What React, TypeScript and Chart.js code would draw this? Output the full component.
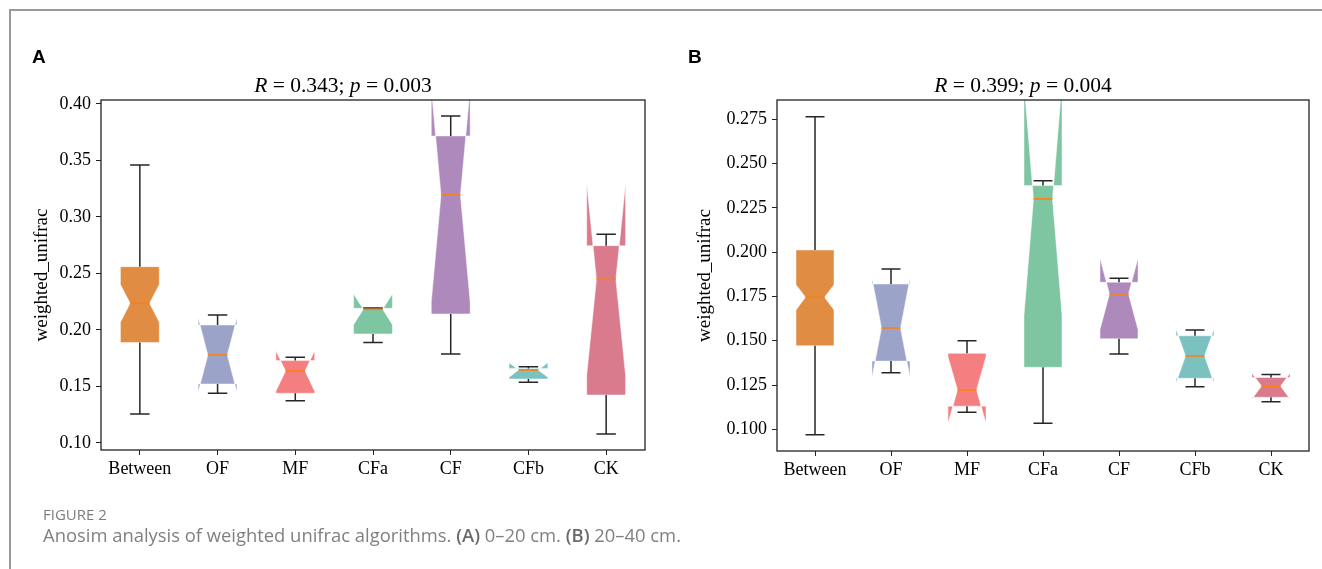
import React, { useEffect, useRef } from "react";
import { Chart, registerables } from "chart.js";

Chart.register(...registerables);

// ---------- data ----------
const categories = ["Between", "OF", "MF", "CFa", "CF", "CFb", "CK"];
const boxColors = ["#E08C43", "#9CA3C9", "#F47F80", "#7EC5A1", "#AE89BB", "#7BC1C0", "#DA7B8D"];

// Panel A (0-20 cm)
const aWhiskerLow = [0.1257, 0.144, 0.1374, 0.189, 0.1788, 0.1537, 0.108];
const aQ1 = [0.189, 0.1522, 0.144, 0.1965, 0.2142, 0.1566, 0.1425];
const aMedian = [0.2236, 0.1779, 0.1637, 0.2183, 0.3195, 0.1646, 0.2449];
const aQ3 = [0.256, 0.2044, 0.1729, 0.2192, 0.3717, 0.166, 0.2746];
const aWhiskerHigh = [0.346, 0.2133, 0.1758, 0.2195, 0.3894, 0.1675, 0.2847];
const aNotch = [0.0167, 0.033, 0.018, 0.0136, 0.0945, 0.0064, 0.0849];
const aYTicks = [0.1, 0.15, 0.2, 0.25, 0.3, 0.35, 0.4];
const aYTickLabels = ["0.10", "0.15", "0.20", "0.25", "0.30", "0.35", "0.40"];
const aYMin = 0.0938;
const aYMax = 0.4035;
const aTitle = ["R", " = 0.343; ", "p", " = 0.003"];

// Panel B (20-40 cm)
const bWhiskerLow = [0.097, 0.1319, 0.1096, 0.1034, 0.1425, 0.124, 0.1156];
const bQ1 = [0.1472, 0.1385, 0.1131, 0.135, 0.1511, 0.1288, 0.1181];
const bMedian = [0.1745, 0.1572, 0.1222, 0.23, 0.1764, 0.1414, 0.1244];
const bQ3 = [0.2012, 0.182, 0.1429, 0.2375, 0.183, 0.1528, 0.1293];
const bWhiskerHigh = [0.2764, 0.1905, 0.15, 0.2403, 0.1852, 0.156, 0.131];
const bNotch = [0.0071, 0.028, 0.0188, 0.0655, 0.0201, 0.0152, 0.0073];
const bYTicks = [0.1, 0.125, 0.15, 0.175, 0.2, 0.225, 0.25, 0.275];
const bYTickLabels = ["0.100", "0.125", "0.150", "0.175", "0.200", "0.225", "0.250", "0.275"];
const bYMin = 0.0878;
const bYMax = 0.2858;
const bTitle = ["R", " = 0.399; ", "p", " = 0.004"];

const yAxisLabel = "weighted_unifrac";

const SERIF = "'Liberation Serif', 'Times New Roman', serif";

// ---------- plugin ----------
const notchBoxPlugin = {
  id: "notchBox",
  afterDatasetsDraw(chart: any, _args: any, opts: any) {
    if (!opts || !opts.median) return;
    const { ctx, chartArea, scales } = chart;
    const x = scales.x;
    const y = scales.y;
    const unit = x.getPixelForValue(1) - x.getPixelForValue(0);
    const hw = unit * 0.25;
    const nw = unit * 0.125;
    const cw = unit * 0.125;
    const py = (v: number) => y.getPixelForValue(v);

    ctx.save();
    ctx.beginPath();
    ctx.rect(chartArea.left, chartArea.top, chartArea.right - chartArea.left, chartArea.bottom - chartArea.top);
    ctx.clip();
    for (let i = 0; i < opts.median.length; i++) {
      const cx = x.getPixelForValue(i);
      const q1 = opts.q1[i];
      const q3 = opts.q3[i];
      const med = opts.median[i];
      const n = opts.notch[i];
      ctx.beginPath();
      ctx.moveTo(cx - hw, py(q1));
      ctx.lineTo(cx - hw, py(med - n));
      ctx.lineTo(cx - nw, py(med));
      ctx.lineTo(cx - hw, py(med + n));
      ctx.lineTo(cx - hw, py(q3));
      ctx.lineTo(cx + hw, py(q3));
      ctx.lineTo(cx + hw, py(med + n));
      ctx.lineTo(cx + nw, py(med));
      ctx.lineTo(cx + hw, py(med - n));
      ctx.lineTo(cx + hw, py(q1));
      ctx.closePath();
      ctx.fillStyle = opts.colors[i];
      ctx.fill();
      ctx.strokeStyle = "rgba(255,255,255,0.6)";
      ctx.lineWidth = 0.8;
      ctx.stroke();

      // whiskers
      ctx.strokeStyle = "#262626";
      ctx.lineWidth = 1.5;
      ctx.beginPath();
      ctx.moveTo(cx, py(q1));
      ctx.lineTo(cx, py(opts.whiskerLow[i]));
      ctx.moveTo(cx, py(q3));
      ctx.lineTo(cx, py(opts.whiskerHigh[i]));
      ctx.moveTo(cx - cw, py(opts.whiskerLow[i]));
      ctx.lineTo(cx + cw, py(opts.whiskerLow[i]));
      ctx.moveTo(cx - cw, py(opts.whiskerHigh[i]));
      ctx.lineTo(cx + cw, py(opts.whiskerHigh[i]));
      ctx.stroke();

      // median
      ctx.strokeStyle = "#FF7F0E";
      ctx.lineWidth = 1.6;
      ctx.beginPath();
      ctx.moveTo(cx - nw, py(med));
      ctx.lineTo(cx + nw, py(med));
      ctx.stroke();
    }
    ctx.restore();

    // frame
    ctx.save();
    ctx.strokeStyle = "#222";
    ctx.lineWidth = 1.3;
    ctx.strokeRect(chartArea.left, chartArea.top, chartArea.right - chartArea.left, chartArea.bottom - chartArea.top);
    ctx.restore();

    // title with italic parts
    ctx.save();
    ctx.fillStyle = "#000";
    ctx.textBaseline = "alphabetic";
    ctx.textAlign = "left";
    const parts: string[] = opts.title;
    const fonts = parts.map((_, k) => (k % 2 === 0 ? `italic 21.5px ${SERIF}` : `21.5px ${SERIF}`));
    let total = 0;
    parts.forEach((p, k) => {
      ctx.font = fonts[k];
      total += ctx.measureText(p).width;
    });
    let tx = opts.titleX - total / 2;
    parts.forEach((p, k) => {
      ctx.font = fonts[k];
      ctx.fillText(p, tx, opts.titleY);
      tx += ctx.measureText(p).width;
    });
    ctx.restore();

    // y label
    ctx.save();
    ctx.fillStyle = "#000";
    ctx.font = `19px ${SERIF}`;
    ctx.textAlign = "center";
    ctx.textBaseline = "middle";
    ctx.translate(opts.yLabelX, (chartArea.top + chartArea.bottom) / 2);
    ctx.rotate(-Math.PI / 2);
    ctx.fillText(yAxisLabel, 0, 0);
    ctx.restore();
  },
};

type PanelProps = {
  left: number;
  width: number;
  height: number;
  padRight: number;
  yAxisWidth: number;
  xAxisHeight: number;
  yMin: number;
  yMax: number;
  yTicks: number[];
  yTickLabels: string[];
  whiskerLow: number[];
  q1: number[];
  median: number[];
  q3: number[];
  whiskerHigh: number[];
  notch: number[];
  title: string[];
  titleX: number;
  yLabelX: number;
};

function BoxPanel(p: PanelProps) {
  const ref = useRef<HTMLCanvasElement | null>(null);
  useEffect(() => {
    if (!ref.current) return;
    const tickFont = { family: SERIF, size: 18 };
    const chart = new Chart(ref.current, {
      type: "line",
      data: {
        labels: categories,
        datasets: [
          {
            data: p.median,
            showLine: false,
            pointRadius: 0,
            pointHoverRadius: 0,
          },
        ],
      },
      options: {
        responsive: false,
        animation: false,
        events: [],
        layout: { padding: { left: 0, top: 100, right: p.padRight, bottom: 0 } },
        plugins: {
          legend: { display: false },
          tooltip: { enabled: false },
          title: { display: false },
          notchBox: {
            whiskerLow: p.whiskerLow,
            q1: p.q1,
            median: p.median,
            q3: p.q3,
            whiskerHigh: p.whiskerHigh,
            notch: p.notch,
            colors: boxColors,
            title: p.title,
            titleX: p.titleX,
            titleY: 92,
            yLabelX: p.yLabelX,
          },
        } as any,
        scales: {
          x: {
            type: "category",
            offset: true,
            grid: { drawOnChartArea: false, drawTicks: true, tickLength: 5, color: "#222", offset: false },
            border: { display: false },
            ticks: { font: tickFont, color: "#000", padding: 3, maxRotation: 0, autoSkip: false },
            afterFit: (s: any) => {
              s.height = p.xAxisHeight;
            },
          } as any,
          y: {
            type: "linear",
            min: p.yMin,
            max: p.yMax,
            grid: { drawOnChartArea: false, drawTicks: true, tickLength: 5, color: "#222" },
            border: { display: false },
            ticks: {
              font: tickFont,
              color: "#000",
              padding: 5,
              includeBounds: false,
              callback: (_v: any, i: number) => p.yTickLabels[i],
            },
            afterBuildTicks: (s: any) => {
              s.ticks = p.yTicks.map((v) => ({ value: v }));
            },
            afterFit: (s: any) => {
              s.width = p.yAxisWidth;
            },
          } as any,
        },
      },
      plugins: [notchBoxPlugin as any],
    });
    return () => chart.destroy();
  }, []);
  return (
    <canvas
      ref={ref}
      width={p.width}
      height={p.height}
      style={{ position: "absolute", left: p.left, top: 0, width: p.width, height: p.height }}
    />
  );
}

export default function App() {
  return (
    <div
      style={{
        position: "fixed",
        left: 0,
        top: 0,
        width: 1322,
        height: 569,
        background: "#fff",
        overflow: "hidden",
      }}
    >
      <BoxPanel
        left={0}
        width={661}
        height={569}
        padRight={16}
        yAxisWidth={101}
        xAxisHeight={119}
        yMin={aYMin}
        yMax={aYMax}
        yTicks={aYTicks}
        yTickLabels={aYTickLabels}
        whiskerLow={aWhiskerLow}
        q1={aQ1}
        median={aMedian}
        q3={aQ3}
        whiskerHigh={aWhiskerHigh}
        notch={aNotch}
        title={aTitle}
        titleX={343}
        yLabelX={42}
      />
      <BoxPanel
        left={661}
        width={661}
        height={569}
        padRight={13}
        yAxisWidth={116}
        xAxisHeight={118}
        yMin={bYMin}
        yMax={bYMax}
        yTicks={bYTicks}
        yTickLabels={bYTickLabels}
        whiskerLow={bWhiskerLow}
        q1={bQ1}
        median={bMedian}
        q3={bQ3}
        whiskerHigh={bWhiskerHigh}
        notch={bNotch}
        title={bTitle}
        titleX={362}
        yLabelX={44}
      />
      {/* figure frame */}
      <div style={{ position: "absolute", left: 9, top: 9, width: 1400, height: 2, background: "#9a9a9a" }} />
      <div style={{ position: "absolute", left: 9, top: 9, width: 2, height: 600, background: "#9a9a9a" }} />
      {/* panel letters */}
      <div
        style={{
          position: "absolute",
          left: 32,
          top: 47,
          font: "bold 19px 'Liberation Sans', Arial, sans-serif",
          lineHeight: "19px",
          color: "#000",
        }}
      >
        A
      </div>
      <div
        style={{
          position: "absolute",
          left: 688,
          top: 47,
          font: "bold 19px 'Liberation Sans', Arial, sans-serif",
          lineHeight: "19px",
          color: "#000",
        }}
      >
        B
      </div>
      {/* caption */}
      <div
        style={{
          position: "absolute",
          left: 43,
          top: 507,
          font: "15px 'Open Sans', sans-serif",
          lineHeight: "15px",
          color: "#7d7d7d",
          whiteSpace: "nowrap",
        }}
      >
        FIGURE 2
      </div>
      <div
        style={{
          position: "absolute",
          left: 43,
          top: 526,
          font: "18.4px 'Open Sans', sans-serif",
          lineHeight: "18px",
          color: "#808080",
          whiteSpace: "nowrap",
        }}
      >
        Anosim analysis of weighted unifrac algorithms. <b style={{ fontWeight: 600, color: "#6a6a6a" }}>(A)</b> 0–20 cm.{" "}
        <b style={{ fontWeight: 600, color: "#6a6a6a" }}>(B)</b> 20–40 cm.
      </div>
    </div>
  );
}
